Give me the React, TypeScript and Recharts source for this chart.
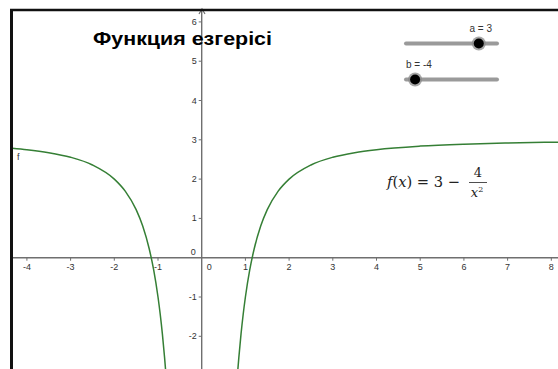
import { LineChart, Line, XAxis, YAxis, ReferenceLine, ReferenceDot } from 'recharts';

// f(x) = 3 - 4/x^2
const LEFT_X = [-4.341, -4, -3.5, -3, -2.5, -2, -1.75, -1.5, -1.35, -1.2, -1.1, -1.0, -0.95, -0.9, -0.85, -0.828];
const LEFT_Y = [2.788, 2.75, 2.673, 2.556, 2.36, 2.0, 1.694, 1.222, 0.805, 0.222, -0.306, -1.0, -1.432, -1.938, -2.536, -2.834];
const RIGHT_X = [0.828, 0.85, 0.9, 0.95, 1.0, 1.1, 1.2, 1.35, 1.5, 1.75, 2, 2.5, 3, 3.5, 4, 5, 6, 7, 8.153];
const RIGHT_Y = [-2.834, -2.536, -1.938, -1.432, -1.0, -0.306, 0.222, 0.805, 1.222, 1.694, 2.0, 2.36, 2.556, 2.673, 2.75, 2.84, 2.889, 2.918, 2.94];

const X_TICKS = [-4, -3, -2, -1, 1, 2, 3, 4, 5, 6, 7, 8];
const Y_TICKS = [6, 5, 4, 3, 2, 1, -1, -2];
const X_DOMAIN: [number, number] = [-4.341, 8.153];
const Y_DOMAIN: [number, number] = [-2.832, 6.303];

const TITLE = 'Функция езгерісі';
const SLIDERS = [
  { name: 'a', value: 3 },
  { name: 'b', value: -4 },
];
const SLIDER_MIN = -5;
const SLIDER_MAX = 5;

const leftData = LEFT_X.map((x, i) => ({ x, y: LEFT_Y[i] }));
const rightData = RIGHT_X.map((x, i) => ({ x, y: RIGHT_Y[i] }));

const W = 558;
const H = 369;
const CURVE = '#357f35';
const AXIS = '#6f6f6f';
const INK = '#333';
const FONT = '"Liberation Sans", Arial, sans-serif';

function XTick({ cx, cy, label }: { cx?: number; cy?: number; label: string }) {
  if (cx == null || cy == null) return null;
  return (
    <g>
      <line x1={cx} x2={cx} y1={cy} y2={cy + 3} stroke={AXIS} strokeWidth={1} />
      <text x={cx} y={cy + 12} textAnchor="middle" fontSize={9} fontFamily={FONT} fill={INK}>
        {label}
      </text>
    </g>
  );
}

function YTick({ cx, cy, label }: { cx?: number; cy?: number; label: string }) {
  if (cx == null || cy == null) return null;
  return (
    <g>
      <line x1={cx - 3} x2={cx} y1={cy} y2={cy} stroke={AXIS} strokeWidth={1} />
      <text x={cx - 5} y={cy + 3} textAnchor="end" fontSize={9} fontFamily={FONT} fill={INK}>
        {label}
      </text>
    </g>
  );
}

function Origin({ cx, cy }: { cx?: number; cy?: number }) {
  if (cx == null || cy == null) return null;
  return (
    <g fontSize={9} fontFamily={FONT} fill={INK}>
      <text x={cx - 6} y={cy - 3} textAnchor="end">0</text>
      <text x={cx + 5} y={cy + 12}>0</text>
    </g>
  );
}

function CurveName({ cx, cy }: { cx?: number; cy?: number }) {
  if (cx == null || cy == null) return null;
  return (
    <text x={cx + 5} y={cy + 12} fontSize={9} fontFamily={FONT} fill={INK}>
      f
    </text>
  );
}

function Slider({ name, value, y }: { name: string; value: number; y: number }) {
  const x0 = 406;
  const x1 = 497;
  const kx = x0 + ((value - SLIDER_MIN) / (SLIDER_MAX - SLIDER_MIN)) * (x1 - x0);
  const labelAtKnob = value > 0;
  return (
    <g>
      <line x1={x0} x2={x1} y1={y} y2={y} stroke="#9a9a9a" strokeWidth={4} strokeLinecap="round" />
      <circle cx={kx} cy={y} r={7} fill="#8a8a8a" opacity={0.75} />
      <circle cx={kx} cy={y} r={5} fill="#000" />
      <text
        x={labelAtKnob ? kx + 2 : x0}
        y={y - 12}
        textAnchor={labelAtKnob ? 'middle' : 'start'}
        fontSize={10}
        fontFamily={FONT}
        fill={INK}
      >
        {`${name} = ${value}`}
      </text>
    </g>
  );
}

export default function App() {
  return (
    <div style={{ position: 'absolute', left: 0, top: 0, width: W, height: H, background: '#fff' }}>
      <LineChart width={W} height={H} margin={{ top: 10, right: 0, bottom: 0, left: 12 }}>
        <XAxis type="number" dataKey="x" domain={X_DOMAIN} allowDataOverflow hide />
        <YAxis type="number" dataKey="y" domain={Y_DOMAIN} allowDataOverflow hide />
        <ReferenceLine y={0} stroke={AXIS} strokeWidth={1.4} />
        <ReferenceLine x={0} stroke={AXIS} strokeWidth={1.4} />
        {X_TICKS.map((t) => (
          <ReferenceDot key={`x${t}`} x={t} y={0} r={0} shape={(p: any) => <XTick {...p} label={String(t)} />} />
        ))}
        {Y_TICKS.map((t) => (
          <ReferenceDot key={`y${t}`} x={0} y={t} r={0} shape={(p: any) => <YTick {...p} label={String(t)} />} />
        ))}
        <ReferenceDot x={0} y={0} r={0} shape={(p: any) => <Origin {...p} />} />
        <ReferenceDot x={LEFT_X[0]} y={LEFT_Y[0]} r={0} ifOverflow="visible" shape={(p: any) => <CurveName {...p} />} />
        <Line
          data={leftData}
          dataKey="y"
          type="monotone"
          stroke={CURVE}
          strokeWidth={1.5}
          dot={false}
          isAnimationActive={false}
        />
        <Line
          data={rightData}
          dataKey="y"
          type="monotone"
          stroke={CURVE}
          strokeWidth={1.5}
          dot={false}
          isAnimationActive={false}
        />
      </LineChart>
      <svg
        width={W}
        height={H}
        style={{ position: 'absolute', left: 0, top: 0, pointerEvents: 'none' }}
      >
        {/* y-axis arrow head */}
        <path d="M199 14 L202 9 L205 14" fill="none" stroke={AXIS} strokeWidth={1.2} />
        {/* view frame */}
        <line x1={11.5} x2={11.5} y1={9} y2={H} stroke="#111" strokeWidth={3} />
        <line x1={10} x2={W} y1={10} y2={10} stroke="#111" strokeWidth={2.5} />
        <text
          x={93}
          y={45}
          fontSize={18.5}
          fontWeight="bold"
          fontFamily={FONT}
          fill="#000"
          textLength={179}
          lengthAdjust="spacingAndGlyphs"
        >
          {TITLE}
        </text>
        {SLIDERS.map((s, i) => (
          <Slider key={s.name} name={s.name} value={s.value} y={43.5 + i * 36} />
        ))}
        <g fontFamily='"DejaVu Serif", "Liberation Serif", serif' fill="#222">
          <text x={387} y={187} fontSize={15} textLength={73} lengthAdjust="spacingAndGlyphs">
            <tspan fontStyle="italic">f</tspan>
            <tspan>(</tspan>
            <tspan fontStyle="italic">x</tspan>
            <tspan>) = 3 − </tspan>
          </text>
          <text x={478} y={177} fontSize={13} textAnchor="middle">4</text>
          <line x1={469} x2={487} y1={182.5} y2={182.5} stroke="#222" strokeWidth={0.8} />
          <text x={477} y={197} fontSize={13} textAnchor="middle">
            <tspan fontStyle="italic">x</tspan>
            <tspan fontSize={8} dy={-5}>2</tspan>
          </text>
        </g>
      </svg>
    </div>
  );
}
